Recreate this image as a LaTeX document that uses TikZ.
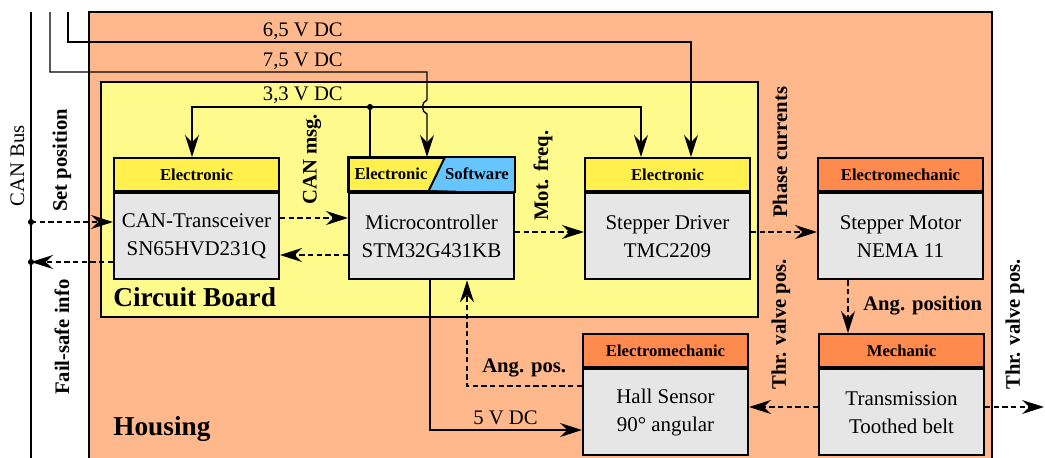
\documentclass[tikz,border=0pt]{standalone}
\usepackage{fontspec}
\setmainfont{Liberation Serif}
\usetikzlibrary{arrows.meta}
\definecolor{housing}{RGB}{255,184,140}
\definecolor{board}{RGB}{255,250,140}
\definecolor{elecY}{RGB}{255,240,77}
\definecolor{emOr}{RGB}{255,138,77}
\definecolor{swBlue}{RGB}{102,196,255}
\definecolor{bodyG}{RGB}{230,230,230}
\begin{document}
\begin{tikzpicture}[x=0.75pt,y=-0.75pt,
  ln/.style={line width=1pt},
  arr/.style={ln,-{Stealth[length=16.5pt,width=10.5pt,inset=5.5pt]}},
  darr/.style={arr,dash pattern=on 4pt off 2.5pt},
  hdrfont/.style={font=\bfseries\fontsize{12.5}{14}\selectfont},
  hdr/.style={draw,line width=1.5pt,minimum width=123.75pt,minimum height=25pt,inner sep=0pt,hdrfont,anchor=north west},
  bdy/.style={draw,line width=1.5pt,fill=bodyG,minimum width=123.75pt,minimum height=64.5pt,inner sep=0pt,align=center,font=\fontsize{15.7}{20.8}\selectfont,anchor=north},
  lbl/.style={font=\bfseries\fontsize{15.5}{18}\selectfont,inner sep=0pt},
  txt/.style={font=\fontsize{15.5}{18}\selectfont,inner sep=0pt},
  ttl/.style={font=\bfseries\fontsize{20.5}{24}\selectfont,inner sep=0pt}]

\clip (0,0) rectangle (1045,457);
\fill[white] (0,0) rectangle (1045,457);

% housing and board
\draw[ln,fill=housing] (89,12) rectangle (992,475);
\draw[ln,fill=board] (101,82) rectangle (758,317);

% blocks
\node[hdr,fill=elecY] (ctH) at (113,157) {Electronic};
\node[bdy] (ct) at (ctH.south) {CAN-Transceiver\\SN65HVD231Q};

\node[hdr,fill=elecY] (mcH) at (348,157) {};
\fill[swBlue] (445,157) -- (mcH.north east) -- (mcH.south east) -- (429,190) -- cycle;
\draw[line width=1.5pt] (445,157) -- (429,190);
\draw[line width=1.5pt] (mcH.south west) rectangle (mcH.north east);
\node[hdrfont,inner sep=0pt] (mcHe) at (391,174) {Electronic};
\node[hdrfont,inner sep=0pt] (mcHs) at (477,174) {Software};
\node[bdy] (mc) at (mcH.south) {Microcontroller\\STM32G431KB};

\node[hdr,fill=elecY] (sdH) at (584,157) {Electronic};
\node[bdy] (sd) at (sdH.south) {Stepper Driver\\TMC2209};

\node[hdr,fill=emOr] (smH) at (817,157) {Electromechanic};
\node[bdy] (sm) at (smH.south) {Stepper Motor\\NEMA 11};

\node[hdr,fill=emOr] (hsH) at (582,333) {Electromechanic};
\node[bdy] (hs) at (hsH.south) {Hall Sensor\\90° angular};

\node[hdr,fill=emOr] (trH) at (818,333) {Mechanic};
\node[bdy] (tr) at (trH.south) {Transmission\\Toothed belt};

% CAN bus
\coordinate (busT) at (31,12);
\coordinate (busB) at (31,460);
\draw[line width=2pt] (busT) -- (busB);
\coordinate (b1) at (31,222);
\coordinate (b2) at (31,262);
\fill (b1) circle[radius=2.3pt];
\fill (b2) circle[radius=2.3pt];

% supply lines
\coordinate (s65) at (68,12);
\coordinate (s75) at (50,12);
\coordinate (j) at (370,107);
\coordinate (v33a) at (192,107);
\coordinate (v33b) at (641,107);
\coordinate (v75) at (427,72);
\coordinate (v65) at (691,42);
\draw[ln] (j |- mcH.north) -- (j);
\fill (j) circle[radius=2.3pt];
\draw[arr] (j) -- (v33a) -- (v33a |- ctH.north);
\draw[arr] (j) -- (v33b) -- (v33b |- sdH.north);
\draw[arr] (s75) -- (50,72) -- (v75) -- (427,100) .. controls (421,102) and (421,112) .. (427,114) -- (v75 |- mcH.north);
\draw[arr] (s65) -- (68,42) -- (v65) -- (v65 |- sdH.north);

\node[txt,anchor=base east] (t65) at (343,36) {6,5 V DC};
\node[txt,anchor=base east] (t75) at (343,66) {7,5 V DC};
\node[txt,anchor=base east] (t33) at (343,100.5) {3,3 V DC};

% signals
\coordinate (cm1) at (300,218);
\coordinate (cm2) at (300,255);
\coordinate (mf) at (550,232);
\coordinate (pc) at (790,232);
\coordinate (apm) at (848,300);
\coordinate (tv) at (790,407);
\coordinate (tvout) at (1044,407);
\coordinate (apc) at (467,386);
\coordinate (v5) at (430,430);

\draw[darr] (b1) -- (b1 -| ct.west);
\draw[darr] (ct.west |- b2) -- (b2);
\draw[darr] (cm1 -| ct.east) -- (cm1 -| mc.west);
\draw[darr] (cm2 -| mc.west) -- (cm2 -| ct.east);
\draw[darr] (mf -| mc.east) -- (mf -| sd.west);
\draw[darr] (pc -| sd.east) -- (pc -| sm.west);
\draw[darr] (apm |- sm.south) -- (apm |- trH.north);
\draw[darr] (tv -| tr.west) -- (tv -| hs.east);
\draw[darr] (tv -| tr.east) -- (tvout);
\draw[darr] (apc -| hs.west) -- (apc) -- (apc |- mc.south);
\draw[arr] (v5 |- mc.south) -- (v5) -- (v5 -| hs.west);

% labels
\node[txt,rotate=90] (lcan) at (17.5,166) {CAN Bus};
\node[lbl,rotate=90,anchor=west] (lset) at (62,212) {Set position};
\node[lbl,rotate=90,anchor=west] (lfail) at (62,395) {Fail-safe info};
\node[lbl,rotate=90,anchor=west] (lcanm) at (312,205) {CAN msg.};
\node[lbl,rotate=90,anchor=west] (lmot) at (543,221) {Mot. freq.};
\node[lbl,rotate=90,anchor=west] (lph) at (780,218) {Phase currents};
\node[lbl,rotate=90,anchor=west] (ltv1) at (781,390) {Thr. valve pos.};
\node[lbl,rotate=90,anchor=west] (ltv2) at (1015,390) {Thr. valve pos.};
\node[lbl,anchor=base west] (lang) at (863,310) {Ang. position};
\node[lbl,anchor=base west] (langp) at (482,372) {Ang. pos.};
\node[txt,anchor=base west] (l5v) at (473,424) {5 V DC};
\node[ttl,anchor=base west] (lcb) at (113,306) {Circuit Board};
\node[ttl,anchor=base west] (lhs) at (113,435) {Housing};
\end{tikzpicture}
\end{document}
